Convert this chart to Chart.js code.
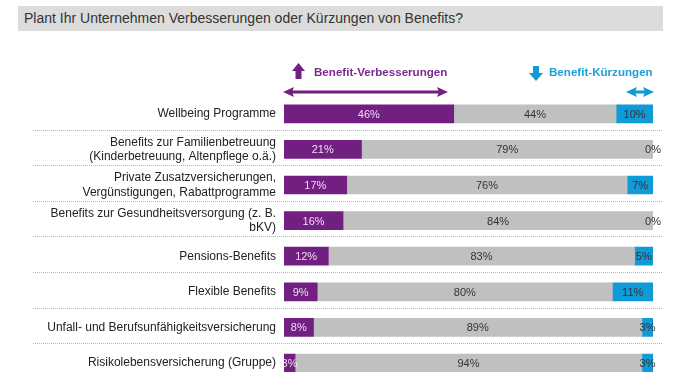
<!DOCTYPE html>
<html>
<head>
<meta charset="utf-8">
<script src="https://cdn.jsdelivr.net/npm/chart.js@4"></script>
<style>
    html, body { margin: 0; padding: 0; background: #fff; overflow: hidden; }
    body { width: 696px; height: 372px; position: relative; font-family: 'Liberation Sans', Arial, sans-serif; }
    #titleBar {
        position: absolute; left: 18px; top: 6px; width: 645px; height: 25px;
        background: #dcdcdc; color: #333; font-size: 14px; line-height: 25px;
        padding-left: 6px; box-sizing: border-box;
    }
    #wrap { position: absolute; left: 0; top: 0; width: 696px; height: 396px; }
</style>
</head>
<body>
<div id="titleBar">Plant Ihr Unternehmen Verbesserungen oder Kürzungen von Benefits?</div>
<div id="wrap"><canvas id="barChart"></canvas></div>
<script>
// Categories (multi-line ones as arrays)
const categories = [
    'Wellbeing Programme',
    ['Benefits zur Familienbetreuung', '(Kinderbetreuung, Altenpflege o.ä.)'],
    ['Private Zusatzversicherungen,', 'Vergünstigungen, Rabattprogramme'],
    ['Benefits zur Gesundheitsversorgung (z. B.', 'bKV)'],
    'Pensions-Benefits',
    'Flexible Benefits',
    'Unfall- und Berufsunfähigkeitsversicherung',
    'Risikolebensversicherung (Gruppe)'
];

// Series values (percent)
const verbesserungen = [46, 21, 17, 16, 12, 9, 8, 3];
const keineAenderung = [44, 79, 76, 84, 83, 80, 89, 94];
const kuerzungen = [10, 0, 7, 0, 5, 11, 3, 3];

const PURPLE = '#711f80';
const GREY = '#c0c0c0';
const BLUE = '#0f9bd7';

// Dotted separators between rows
const separatorPlugin = {
    id: 'separators',
    beforeDatasetsDraw(chart) {
        const ctx = chart.ctx;
        const y = chart.scales.y;
        ctx.save();
        ctx.strokeStyle = '#b5b5b5';
        ctx.lineWidth = 1;
        ctx.setLineDash([1, 1]);
        for (let i = 0; i < categories.length - 1; i++) {
            const py = Math.round((y.getPixelForTick(i) + y.getPixelForTick(i + 1)) / 2) - 1.5;
            ctx.beginPath();
            ctx.moveTo(33, py);
            ctx.lineTo(663, py);
            ctx.stroke();
        }
        ctx.restore();
    }
};

// Value labels centered in each segment
const valueLabelPlugin = {
    id: 'valueLabels',
    afterDatasetsDraw(chart) {
        const ctx = chart.ctx;
        const colors = ['rgba(255,240,255,0.9)', '#333', '#333'];
        ctx.save();
        ctx.font = '11px "Liberation Sans", Arial, sans-serif';
        ctx.textAlign = 'center';
        ctx.textBaseline = 'middle';
        chart.data.datasets.forEach((ds, i) => {
            const meta = chart.getDatasetMeta(i);
            meta.data.forEach((bar, j) => {
                ctx.fillStyle = colors[i];
                ctx.fillText(ds.data[j] + '%', (bar.x + bar.base) / 2, bar.y + 1);
            });
        });
        ctx.restore();
    }
};

function drawDoubleArrow(ctx, x1, x2, y, color) {
    ctx.fillStyle = color;
    ctx.fillRect(x1 + 8, y - 1.5, x2 - x1 - 16, 3);
    ctx.beginPath();
    ctx.moveTo(x1, y);
    ctx.lineTo(x1 + 11, y - 5);
    ctx.lineTo(x1 + 9, y);
    ctx.lineTo(x1 + 11, y + 5);
    ctx.closePath();
    ctx.fill();
    ctx.beginPath();
    ctx.moveTo(x2, y);
    ctx.lineTo(x2 - 11, y - 5);
    ctx.lineTo(x2 - 9, y);
    ctx.lineTo(x2 - 11, y + 5);
    ctx.closePath();
    ctx.fill();
}

// Header legend with arrows
const headerPlugin = {
    id: 'header',
    afterDraw(chart) {
        const ctx = chart.ctx;
        ctx.save();
        // up arrow (purple)
        ctx.fillStyle = PURPLE;
        ctx.beginPath();
        ctx.moveTo(298.5, 63);
        ctx.lineTo(305, 71);
        ctx.lineTo(292, 71);
        ctx.closePath();
        ctx.fill();
        ctx.fillRect(295.5, 70, 6, 9);
        // down arrow (blue)
        ctx.fillStyle = BLUE;
        ctx.fillRect(533, 66, 6, 8);
        ctx.beginPath();
        ctx.moveTo(529, 73);
        ctx.lineTo(543, 73);
        ctx.lineTo(536, 81);
        ctx.closePath();
        ctx.fill();

        ctx.font = 'bold 11.6px "Liberation Sans", Arial, sans-serif';
        ctx.textBaseline = 'middle';
        ctx.textAlign = 'left';
        ctx.fillStyle = '#7a2a8c';
        ctx.fillText('Benefit-Verbesserungen', 314, 73);
        ctx.fillStyle = '#1d9fd8';
        ctx.fillText('Benefit-Kürzungen', 549, 73);

        drawDoubleArrow(ctx, 283, 448, 92, PURPLE);
        drawDoubleArrow(ctx, 626, 654, 92, BLUE);
        ctx.restore();
    }
};

const ctx = document.getElementById('barChart').getContext('2d');
const barChart = new Chart(ctx, {
    type: 'bar',
    data: {
        labels: categories,
        datasets: [
            { label: 'Verbesserungen', data: verbesserungen, backgroundColor: PURPLE },
            { label: 'Keine Änderung', data: keineAenderung, backgroundColor: GREY },
            { label: 'Kürzungen', data: kuerzungen, backgroundColor: BLUE }
        ]
    },
    options: {
        indexAxis: 'y',
        responsive: true,
        maintainAspectRatio: false,
        animation: false,
        layout: { padding: { top: 96, right: 43, bottom: 0, left: 0 } },
        datasets: { bar: { barThickness: 18, borderWidth: 0 } },
        scales: {
            x: {
                stacked: true,
                min: 0,
                max: 100,
                display: false
            },
            y: {
                stacked: true,
                grid: { display: false, drawTicks: false },
                border: { display: false },
                afterFit(scale) { scale.width = 284; },
                ticks: {
                    color: '#222',
                    padding: 8,
                    font: { family: '"Liberation Sans", Arial, sans-serif', size: 12, lineHeight: 1.2 }
                }
            }
        },
        plugins: {
            legend: { display: false },
            tooltip: { enabled: false }
        }
    },
    plugins: [separatorPlugin, valueLabelPlugin, headerPlugin]
});
</script>
</body>
</html>
